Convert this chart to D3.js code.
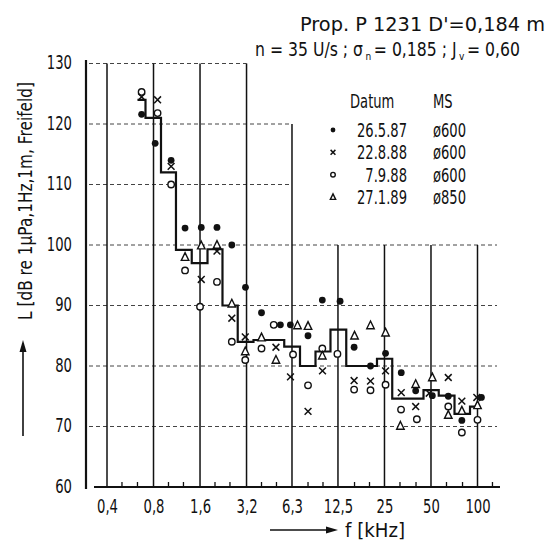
<!DOCTYPE html>
<html>
<head>
<meta charset="utf-8">
<script src="https://cdn.jsdelivr.net/npm/d3@7"></script>
<style>
  body { margin: 0; background: #fff; }
  svg text { font-family: "DejaVu Sans", sans-serif; fill: #111; }
</style>
</head>
<body>
<svg id="chart" width="554" height="546"></svg>
<script>
// 1/3-octave band levels (step line)
var bandFreqs  = [0.63, 0.8, 1, 1.25, 1.6, 2, 2.5, 3.15, 4, 5, 6.3, 8, 10, 12.5, 16, 20, 25, 31.5, 40, 50, 63, 80, 100];
var bandLevels = [124, 121, 112, 99.2, 97, 99.3, 90, 84, 84.3, 84.3, 83.2, 80, 82.4, 86, 80, 80, 81.2, 74.6, 74.6, 76, 75.1, 72.1, 73.3];

// single measurements [f kHz, L dB]
var dots26587 = [[0.67,121.6],[0.82,116.8],[1.04,114],[1.28,102.8],[1.63,102.9],[2.06,102.9],[2.57,100],[3.15,93],
  [4,88.8],[5.3,86.8],[6.15,86.8],[8,85],[9.9,90.9],[12.9,90.7],[15.9,83.1],[20.3,80],[25.4,82.1],[32.1,78.9],
  [39.8,75.9],[51,75.1],[64.7,75],[79.2,71],[106,74.8]];
var crosses22888 = [[0.67,124.5],[0.85,124],[1.04,113],[1.63,94.3],[2.06,99],[2.57,87.9],[3.14,84.8],[4.96,83.1],
  [6.16,78.2],[8,72.5],[9.93,79.2],[15.9,77.6],[20.3,77.5],[25.4,79.2],[32.1,75.6],[39.8,73.3],[48.7,75.5],
  [64.7,78.1],[79.2,74.2],[99,74.8]];
var circles7988 = [[0.67,125.3],[0.85,121.8],[1.04,110],[1.28,95.8],[1.6,89.8],[2.06,93.9],[2.57,84],[3.14,81],
  [4,82.9],[4.8,86.8],[6.4,81.9],[8,76.8],[9.9,82.9],[12.4,82],[15.9,76.1],[20.3,76],[25.4,76.9],[32,72.8],
  [40.5,71.2],[64.7,73.3],[79.2,69],[100,71.1]];
var triangles27189 = [[1.28,98],[1.63,99.9],[2.06,100],[2.57,90.3],[3.14,82.4],[4,84.7],[4.96,81],[6.84,86.7],
  [8,86.6],[9.9,81.7],[16,85],[20.3,86.7],[25.4,85.5],[31.7,70.1],[39.8,77],[51,78.1],[64.7,71.9],[79.2,72.6],[100,73.5]];

var yTicks = [60, 70, 80, 90, 100, 110, 120, 130];
var xTicks = [0.4, 0.8, 1.6, 3.2, 6.3, 12.5, 25, 50, 100];
var xTickLabels = ["0,4", "0,8", "1,6", "3,2", "6,3", "12,5", "25", "50", "100"];
var minorTicks = [0.5, 0.63, 1, 1.25, 2, 2.5, 4, 5, 8, 10, 16, 20, 31.5, 40, 63, 80, 125];

var legendDates = ["26.5.87", "22.8.88", "7.9.88", "27.1.89"];
var legendMS = ["ø600", "ø600", "ø600", "ø850"];
var legendKinds = ["dot", "cross", "circle", "triangle"];

// second header line, split so the subscripts are their own pieces
var headerParts = [
  { t: "n = 35 U/s ; σ", sub: false },
  { t: "n", sub: true },
  { t: "= 0,185 ; J", sub: false },
  { t: "v", sub: true },
  { t: "= 0,60", sub: false }
];

var svg = d3.select("#chart");
var x = d3.scaleLog().domain([0.4, 100]).range([107, 477.5]);
var y = d3.scaleLinear().domain([60, 130]).range([487, 63.5]);

// squeeze text to look like the narrow drawing lettering
function narrow(sel, k) {
  sel.each(function() {
    var w = this.getComputedTextLength();
    d3.select(this).attr("textLength", w * k).attr("lengthAdjust", "spacingAndGlyphs");
  });
}

// grid
function gridEnd(v) { return v >= 130 ? x(3.2) : (v >= 110 ? x(6.3) : 497); }
function gridTop(f) { return f <= 3.2 ? y(130) : (f <= 6.3 ? y(120) : y(100)); }

svg.append("g").selectAll("line")
  .data(yTicks.filter(function(v) { return v > 60; }))
  .enter().append("line")
  .attr("x1", 89).attr("x2", gridEnd)
  .attr("y1", function(d) { return y(d); }).attr("y2", function(d) { return y(d); })
  .attr("stroke", "#444").attr("stroke-width", 1).attr("stroke-dasharray", "4,3");

svg.append("g").selectAll("line")
  .data(xTicks)
  .enter().append("line")
  .attr("x1", function(d) { return x(d); }).attr("x2", function(d) { return x(d); })
  .attr("y1", gridTop).attr("y2", y(60))
  .attr("stroke", "#111").attr("stroke-width", 1.5);

// minor ticks along the f axis
svg.append("g").selectAll("line")
  .data(minorTicks)
  .enter().append("line")
  .attr("x1", function(d) { return x(d); }).attr("x2", function(d) { return x(d); })
  .attr("y1", y(60)).attr("y2", y(60) - 5)
  .attr("stroke", "#111").attr("stroke-width", 1.3);

// axis lines
svg.append("line").attr("x1", 86).attr("x2", 86).attr("y1", 60).attr("y2", 489)
  .attr("stroke", "#111").attr("stroke-width", 2.2);
svg.append("line").attr("x1", 94).attr("x2", 500).attr("y1", y(60)).attr("y2", y(60))
  .attr("stroke", "#111").attr("stroke-width", 2.2);

// tick labels
var yAxis = svg.append("g").attr("transform", "translate(86,0)")
  .call(d3.axisLeft(y).tickValues(yTicks).tickSize(0).tickPadding(14));
yAxis.select(".domain").remove();
yAxis.selectAll("text").attr("font-size", 20).attr("dy", "0.25em")
  .style("font-family", "DejaVu Sans").call(narrow, 0.66);

var xAxis = svg.append("g").attr("transform", "translate(0," + y(60) + ")")
  .call(d3.axisBottom(x).tickValues(xTicks).tickSize(0).tickPadding(12)
    .tickFormat(function(d, i) { return xTickLabels[i]; }));
xAxis.select(".domain").remove();
xAxis.selectAll("text").attr("font-size", 20)
  .style("font-family", "DejaVu Sans").call(narrow, 0.66);

// band step line
var bands = bandFreqs.map(function(f, i) { return { f: f, l: bandLevels[i] }; });
svg.append("path")
  .datum(bands)
  .attr("fill", "none").attr("stroke", "#111").attr("stroke-width", 2.2)
  .attr("d", d3.line()
    .x(function(d) { return x(d.f); })
    .y(function(d) { return y(d.l); })
    .curve(d3.curveStep));

// markers
function drawMarker(g, kind, s) {
  if (kind === "dot") {
    g.append("circle").attr("r", s).attr("fill", "#111");
  } else if (kind === "circle") {
    g.append("circle").attr("r", s * 0.95).attr("fill", "#fff").attr("stroke", "#111").attr("stroke-width", 1.4);
  } else if (kind === "cross") {
    g.append("path").attr("d", "M" + (-s) + "," + (-s) + "L" + s + "," + s + "M" + (-s) + "," + s + "L" + s + "," + (-s))
      .attr("stroke", "#111").attr("stroke-width", 1.5).attr("fill", "none");
  } else {
    var h = s * 1.3;
    g.append("path").attr("d", "M0," + (-h) + "L" + (h * 0.85) + "," + (h * 0.75) + "L" + (-h * 0.85) + "," + (h * 0.75) + "Z")
      .attr("stroke", "#111").attr("stroke-width", 1.4).attr("fill", "#fff");
  }
}

var seriesList = [
  { kind: "circle", data: circles7988 },
  { kind: "triangle", data: triangles27189 },
  { kind: "cross", data: crosses22888 },
  { kind: "dot", data: dots26587 }
];
seriesList.forEach(function(s) {
  svg.append("g").selectAll("g")
    .data(s.data)
    .enter().append("g")
    .attr("transform", function(d) { return "translate(" + x(d[0]) + "," + y(d[1]) + ")"; })
    .each(function() { drawMarker(d3.select(this), s.kind, 3.4); });
});

// legend
var legend = svg.append("g");
legend.append("text").attr("x", 350).attr("y", 108).attr("font-size", 19).text("Datum").call(narrow, 0.69);
legend.append("text").attr("x", 433).attr("y", 108).attr("font-size", 19).text("MS").call(narrow, 0.69);
var rowY = [130, 152.3, 174.7, 197];
legendDates.forEach(function(dt, i) {
  var g = legend.append("g").attr("transform", "translate(333," + rowY[i] + ")");
  drawMarker(g, legendKinds[i], 2.4);
  legend.append("text").attr("x", 407).attr("y", rowY[i] + 7).attr("font-size", 19)
    .attr("text-anchor", "end").text(dt).call(narrow, 0.69);
  legend.append("text").attr("x", 433).attr("y", rowY[i] + 7).attr("font-size", 19)
    .text(legendMS[i]).call(narrow, 0.69);
});

// header
svg.append("text").attr("x", 300).attr("y", 31).attr("font-size", 20)
  .attr("textLength", 245).attr("lengthAdjust", "spacingAndGlyphs")
  .text("Prop.  P 1231  D'=0,184 m");

// second line: pieces laid out at natural width, then the group is squeezed
var header2 = svg.append("g");
var pieces = header2.selectAll("text").data(headerParts).enter().append("text")
  .attr("font-size", function(d) { return d.sub ? 11 : 19; })
  .attr("y", function(d) { return d.sub ? 60 : 56; })
  .text(function(d) { return d.t; });
var cx = 0;
pieces.each(function(d) {
  d3.select(this).attr("x", cx);
  cx += this.getComputedTextLength() + 3;
});
header2.attr("transform", "translate(255,0) scale(" + (265 / (cx - 3)) + ",1)");

// axis titles
svg.append("text").attr("transform", "translate(32,320) rotate(-90)").attr("font-size", 19)
  .attr("textLength", 238).attr("lengthAdjust", "spacingAndGlyphs")
  .text("L [dB re 1µPa,1Hz,1m, Freifeld]");
svg.append("line").attr("x1", 23).attr("x2", 23).attr("y1", 436).attr("y2", 350)
  .attr("stroke", "#111").attr("stroke-width", 1.6);
svg.append("path").attr("d", "M23,340L19.5,352L26.5,352Z").attr("fill", "#111");

svg.append("line").attr("x1", 270).attr("x2", 328).attr("y1", 530).attr("y2", 530)
  .attr("stroke", "#111").attr("stroke-width", 1.6);
svg.append("path").attr("d", "M338,530L326,526.5L326,533.5Z").attr("fill", "#111");
svg.append("text").attr("x", 345).attr("y", 537).attr("font-size", 19)
  .attr("textLength", 60).attr("lengthAdjust", "spacingAndGlyphs")
  .text("f [kHz]");
</script>
</body>
</html>
